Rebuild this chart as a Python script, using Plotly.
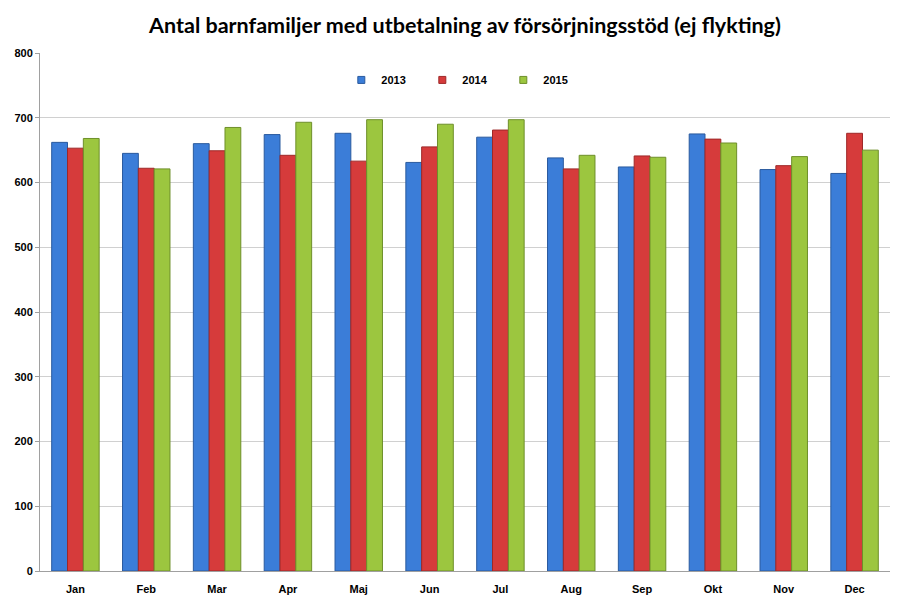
import plotly.graph_objects as go

months = ["Jan", "Feb", "Mar", "Apr", "Maj", "Jun", "Jul", "Aug", "Sep", "Okt", "Nov", "Dec"]
y2013 = [662, 645, 660, 674, 676, 631, 670, 638, 624, 675, 620, 614]
y2014 = [653, 622, 649, 642, 633, 655, 681, 621, 641, 667, 626, 676]
y2015 = [668, 621, 685, 693, 697, 690, 697, 642, 639, 661, 640, 650]
series_names = ["2013", "2014", "2015"]
y_ticks = [0, 100, 200, 300, 400, 500, 600, 700, 800]

colors = ["#3B7DD8", "#D63B3B", "#9CC63F"]
edges = ["#2A5A9E", "#9E2828", "#6E8F2A"]

W, H = 914, 595  # page body has an 8px default margin

fig = go.Figure()
for name, vals, c, e in zip(series_names, [y2013, y2014, y2015], colors, edges):
    fig.add_trace(go.Bar(x=months, y=vals, name=name, showlegend=False,
                         marker=dict(color=c, line=dict(color=e, width=1))))
    fig.add_trace(go.Scatter(x=[None], y=[None], name=name, mode="markers",
                             marker=dict(symbol="square", size=7, color=c,
                                         line=dict(color=e, width=1))))

title_font = "Lato, 'Open Sans', sans-serif"
tick_font = "'Liberation Sans', Arial, sans-serif"
fig.update_layout(
    width=W, height=H,
    margin=dict(l=32, r=32, t=45, b=32),
    paper_bgcolor="white", plot_bgcolor="white",
    barmode="group", bargap=0.33, bargroupgap=0,
    title=dict(text="<b>Antal barnfamiljer med utbetalning av försörjningsstöd (ej flykting)</b>",
               x=0.5, xanchor="center", y=1 - 17 / H, yanchor="middle",
               font=dict(family=title_font, size=21.5, color="#000000")),
    legend=dict(orientation="h", x=0.3545, xanchor="left", y=0.948, yanchor="middle",
                font=dict(family=tick_font, size=11, color="#000000", weight="bold"),
                itemwidth=30, entrywidth=36, entrywidthmode="pixels",
                bgcolor="rgba(0,0,0,0)", traceorder="normal"),
    font=dict(family=tick_font, color="#000000"),
)
fig.update_yaxes(range=[0, 800], tickvals=y_ticks, showgrid=True, gridcolor="#D0D0D0", gridwidth=1,
                 showline=True, linecolor="#A0A0A0", linewidth=1, ticks="outside", ticklen=4,
                 tickcolor="#A0A0A0", zeroline=False, automargin=False,
                 tickfont=dict(family=tick_font, size=11, color="#000000", weight="bold"))
fig.update_xaxes(showline=True, linecolor="#A0A0A0", linewidth=1, ticks="outside", ticklen=8,
                 tickcolor="rgba(0,0,0,0)", automargin=False,
                 tickfont=dict(family=tick_font, size=11, color="#000000", weight="bold"))

fig.write_html("out.html")
